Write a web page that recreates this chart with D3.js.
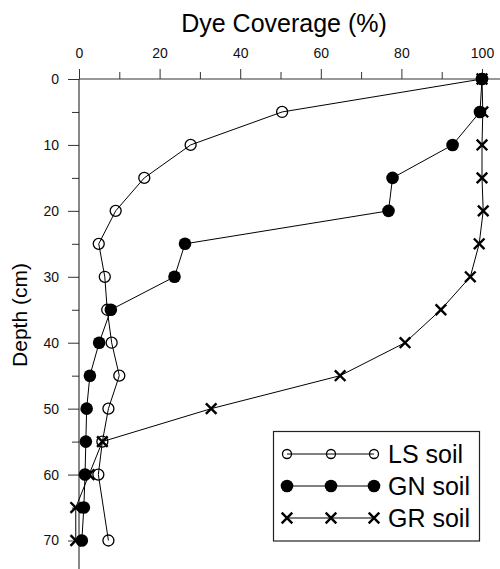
<!DOCTYPE html>
<html>
<head>
<meta charset="utf-8">
<script src="https://cdn.jsdelivr.net/npm/d3@7"></script>
<style>
	body { margin: 0; background: #fff; }
	text { font-family: "Liberation Sans", Arial, sans-serif; }
</style>
</head>
<body>
<div id="chart"></div>
<script>
// depth (cm) and dye coverage (%) per soil
var depths = [0, 5, 10, 15, 20, 25, 30, 35, 40, 45, 50, 55, 60, 65, 70];
var lsCover = [100, 50.4, 27.7, 16.2, 9.1, 4.9, 6.4, 7.0, 8.1, 10.0, 7.3, 5.8, 4.8, null, 7.3];
var gnCover = [100, 99.5, 92.7, 77.8, 76.8, 26.3, 23.7, 7.9, 5.0, 2.7, 1.9, 1.7, 1.5, 1.2, 0.7];
var grCover = [100, 100.2, 100, 100, 100.3, 99.3, 97.1, 89.8, 80.9, 64.8, 32.8, 5.8, 2.5, -0.8, -0.8];

var xMajor = [0, 20, 40, 60, 80, 100];
var xMinor = [10, 30, 50, 70, 90];
var yMajor = [0, 10, 20, 30, 40, 50, 60, 70];
var yMinor = [5, 15, 25, 35, 45, 55, 65];

var seriesNames = ["LS soil", "GN soil", "GR soil"];
var seriesShapes = ["open", "filled", "cross"];

var width = 500, height = 569;

var svg = d3.select("#chart")
	.append("svg")
	.attr("width", width)
	.attr("height", height);

var x = d3.scaleLinear().domain([0, 100]).range([79, 482]);
var y = d3.scaleLinear().domain([0, 70]).range([79, 540.5]);

var styleAxis = function(_g)	{
	_g.select(".domain").remove();
	_g.selectAll(".tick line").attr("stroke", "#333");
	_g.selectAll(".tick text")
	.style("font-size", "14px")
	.attr("fill", "#111");
}

// top axis
svg.append("g")
.attr("transform", "translate(0," + y(0) + ")")
.call(d3.axisTop(x).tickValues(xMajor).tickSize(10).tickPadding(11))
.call(styleAxis);

svg.append("g")
.attr("transform", "translate(0," + y(0) + ")")
.call(d3.axisTop(x).tickValues(xMinor).tickSize(7).tickFormat(""))
.call(styleAxis);

// left axis
svg.append("g")
.attr("transform", "translate(" + x(0) + ",0)")
.call(d3.axisLeft(y).tickValues(yMajor).tickSize(11).tickPadding(9))
.call(styleAxis);

svg.append("g")
.attr("transform", "translate(" + x(0) + ",0)")
.call(d3.axisLeft(y).tickValues(yMinor).tickSize(7).tickFormat(""))
.call(styleAxis);

svg.append("line")
.attr("x1", x(0)).attr("x2", width)
.attr("y1", y(0)).attr("y2", y(0))
.attr("stroke", "#333");

svg.append("line")
.attr("x1", x(0)).attr("x2", x(0))
.attr("y1", y(0)).attr("y2", height)
.attr("stroke", "#111");

svg.append("text")
.attr("x", 284)
.attr("y", 32)
.attr("text-anchor", "middle")
.style("font-size", "25px")
.text("Dye Coverage (%)");

svg.append("text")
.attr("transform", "translate(27,315) rotate(-90)")
.attr("text-anchor", "middle")
.style("font-size", "21px")
.text("Depth (cm)");

var drawMarker = function(_g, _shape, _cx, _cy, _legend)	{
	if(_shape === "open")	{
		_g.append("circle")
		.attr("cx", _cx).attr("cy", _cy)
		.attr("r", _legend ? 4.5 : 5.5)
		.attr("fill", "none")
		.attr("stroke", "#000")
		.attr("stroke-width", 1.3);
	}
	else if(_shape === "filled")	{
		_g.append("circle")
		.attr("cx", _cx).attr("cy", _cy)
		.attr("r", 6.3)
		.attr("fill", "#000");
	}
	else	{
		var s = 5.3;
		_g.append("path")
		.attr("d", "M" + (_cx - s) + "," + (_cy - s) + "L" + (_cx + s) + "," + (_cy + s) +
			"M" + (_cx - s) + "," + (_cy + s) + "L" + (_cx + s) + "," + (_cy - s))
		.attr("stroke", "#000")
		.attr("stroke-width", 2.4)
		.attr("fill", "none");
	}
}

var line = d3.line()
.x(function(_d) { return x(_d.cover); })
.y(function(_d) { return y(_d.depth); });

[lsCover, gnCover, grCover].forEach(function(_cover, _i)	{
	var pts = depths.map(function(_d, _j) {
		return { depth : _d, cover : _cover[_j] };
	}).filter(function(_p) { return _p.cover !== null; });

	var g = svg.append("g").attr("class", "series");

	g.append("path")
	.datum(pts)
	.attr("d", line)
	.attr("fill", "none")
	.attr("stroke", "#000")
	.attr("stroke-width", 1);

	pts.forEach(function(_p)	{
		drawMarker(g, seriesShapes[_i], x(_p.cover), y(_p.depth), false);
	});
});

// legend
var legend = svg.append("g").attr("class", "legend");

legend.append("rect")
.attr("x", 273.5).attr("y", 431.5)
.attr("width", 206).attr("height", 109.5)
.attr("fill", "#fff")
.attr("stroke", "#222")
.attr("stroke-width", 1.2);

var legendX = [287, 331, 374];

seriesNames.forEach(function(_name, _i)	{
	var ly = 454 + _i * 32;

	legend.append("line")
	.attr("x1", legendX[0]).attr("x2", legendX[2])
	.attr("y1", ly).attr("y2", ly)
	.attr("stroke", "#000");

	legendX.forEach(function(_lx)	{
		drawMarker(legend, seriesShapes[_i], _lx, ly, true);
	});

	legend.append("text")
	.attr("x", 388)
	.attr("y", ly + 9)
	.style("font-size", "25px")
	.text(_name);
});
</script>
</body>
</html>
